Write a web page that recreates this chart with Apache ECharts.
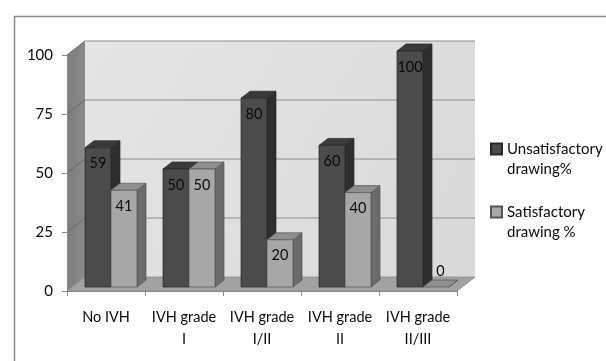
<!DOCTYPE html>
<html><head><meta charset="utf-8">
<script src="https://cdn.jsdelivr.net/npm/echarts@6/dist/echarts.min.js"></script>
<style>html,body{margin:0;padding:0;background:#fff}#chart{width:606px;height:361px}</style>
</head><body><div id="chart"></div>
<script>
// Drawing quality by IVH grade
const categories = ['No IVH', 'IVH grade\nI', 'IVH grade\nI/II', 'IVH grade\nII', 'IVH grade\nII/III'];
const unsatisfactory = [59, 50, 80, 60, 100];
const satisfactory = [41, 50, 20, 40, 0];
const seriesNames = ['Unsatisfactory\ndrawing%', 'Satisfactory\ndrawing %'];
const yTicks = [0, 25, 50, 75, 100];

const FONT = 'Lato, "Open Sans", sans-serif';
const TEXT = '#0a0a0a';
// pseudo-3D offsets (pixels): back wall, bar front plane, bar thickness
const WALL = [18, -14];
const BAR_FRONT = [5, -4];
const BAR_DEPTH = [9, -7];
const BAR_W = 26;

const palette = [
  { front: '#4b4b4b', top: '#3a3a3a', side: '#2e2e2e', edge: '#262626' },
  { front: '#a7a7a7', top: '#8f8f8f', side: '#6b6b6b', edge: '#555555' }
];

function poly(points, fill, stroke, lw) {
  return { type: 'polygon', shape: { points: points },
    style: { fill: fill, stroke: stroke || null, lineWidth: stroke ? (lw || 0.7) : 0 } };
}
function seg(x1, y1, x2, y2, color, lw) {
  return { type: 'line', shape: { x1: x1, y1: y1, x2: x2, y2: y2 },
    style: { stroke: color, lineWidth: lw || 1 } };
}

// back wall, side wall, floor and their gridlines
function renderWalls(params, api) {
  const cs = params.coordSys;
  const x0 = cs.x, x1 = cs.x + cs.width;
  const yBottom = api.coord([0, 0])[1];
  const yTop = api.coord([0, yTicks[yTicks.length - 1]])[1];
  const dx = WALL[0], dy = WALL[1];
  const children = [
    poly([[x0 + dx, yTop + dy], [x1 + dx, yTop + dy], [x1 + dx, yBottom + dy], [x0 + dx, yBottom + dy]],
      { type: 'linear', x: 0, y: 0, x2: 1, y2: 1, colorStops: [{ offset: 0, color: '#e5e5e5' }, { offset: 1, color: '#d9d9d9' }] }),
    poly([[x0, yTop], [x0 + dx, yTop + dy], [x0 + dx, yBottom + dy], [x0, yBottom]],
      { type: 'linear', x: 0, y: 0, x2: 1, y2: 0, colorStops: [{ offset: 0, color: '#7c7c7c' }, { offset: 1, color: '#8a8a8a' }] }),
    poly([[x0, yBottom], [x1, yBottom], [x1 + dx, yBottom + dy], [x0 + dx, yBottom + dy]], '#a2a2a2', '#8a8a8a', 0.8)
  ];
  yTicks.forEach(function (v) {
    if (v === 0) return;
    const y = api.coord([0, v])[1];
    children.push(seg(x0 + dx, y + dy, x1 + dx, y + dy, '#8c8c8c', 1));
    children.push(seg(x0, y, x0 + dx, y + dy, '#666666', 1));
  });
  return { type: 'group', children: children };
}

function makeBarRenderer(s) {
  return function (params, api) {
    const cat = api.value(0), val = api.value(1);
    const base = api.coord([cat, 0]);
    const top = api.coord([cat, val]);
    const left = base[0] - BAR_W + s * BAR_W + BAR_FRONT[0];
    const right = left + BAR_W;
    const yb = base[1] + BAR_FRONT[1];
    const yt = top[1] + BAR_FRONT[1];
    const ddx = BAR_DEPTH[0], ddy = BAR_DEPTH[1];
    const c = palette[s];
    const children = [
      poly([[right, yt], [right + ddx, yt + ddy], [right + ddx, yb + ddy], [right, yb]], c.side, c.edge),
      poly([[left, yt], [left + ddx, yt + ddy], [right + ddx, yt + ddy], [right, yt]], c.top, c.edge)
    ];
    if (yb - yt > 0.5) {
      children.push(poly([[left, yt], [right, yt], [right, yb], [left, yb]], c.front, c.edge));
    }
    const inside = (yb - yt) > 24;
    children.push({
      type: 'text',
      style: {
        text: String(val),
        x: (left + right) / 2 + (inside ? 0 : ddx / 2),
        y: inside ? yt + 16 : yt + ddy - 9,
        align: 'center', verticalAlign: 'middle',
        fontFamily: FONT, fontSize: 14.5, fill: TEXT
      }
    });
    return { type: 'group', children: children };
  };
}

const chart = echarts.init(document.getElementById('chart'), null, { renderer: 'canvas' });
chart.setOption({
  backgroundColor: '#ffffff',
  animation: false,
  graphic: [{
    type: 'rect', left: 12, top: 14, z: -10,
    shape: { x: 0, y: 0, width: 700, height: 400 },
    style: { fill: 'none', stroke: '#8a8a8a', lineWidth: 1.5 }
  }],
  grid: { left: 67, top: 55, width: 390, height: 236 },
  legend: {
    orient: 'vertical', left: 485, top: 114, itemGap: 3,
    itemWidth: 11, itemHeight: 11, icon: 'rect',
    data: seriesNames,
    // leading blank line keeps the marker level with the first text line
    formatter: function (name) { return '\n' + name; },
    textStyle: { fontFamily: FONT, fontSize: 15, color: TEXT, lineHeight: 20 }
  },
  xAxis: {
    type: 'category', data: categories,
    axisLine: { lineStyle: { color: '#8a8a8a', width: 1 } },
    axisTick: { show: true, length: 5, lineStyle: { color: '#8a8a8a' } },
    axisLabel: { interval: 0, fontFamily: FONT, fontSize: 14.5, color: TEXT, margin: 15, lineHeight: 22 },
    splitLine: { show: false }
  },
  yAxis: {
    type: 'value', min: 0, max: 100, interval: 25,
    axisLine: { show: true, lineStyle: { color: '#8a8a8a', width: 1 } },
    axisTick: { show: true, length: 5, lineStyle: { color: '#8a8a8a' } },
    axisLabel: { fontFamily: FONT, fontSize: 15, color: TEXT, margin: 14 },
    splitLine: { show: false }
  },
  series: [
    {
      type: 'custom', name: 'walls', silent: true, z: 0,
      renderItem: renderWalls, data: [[0, 0]], encode: { x: 0, y: 1 }
    },
    {
      type: 'custom', name: seriesNames[0], z: 2,
      itemStyle: { color: palette[0].front, borderColor: palette[0].edge, borderWidth: 1 },
      renderItem: makeBarRenderer(0),
      data: unsatisfactory.map(function (v, i) { return [i, v]; }), encode: { x: 0, y: 1 }
    },
    {
      type: 'custom', name: seriesNames[1], z: 3,
      itemStyle: { color: palette[1].front, borderColor: palette[1].edge, borderWidth: 1 },
      renderItem: makeBarRenderer(1),
      data: satisfactory.map(function (v, i) { return [i, v]; }), encode: { x: 0, y: 1 }
    }
  ]
});
</script>
</body></html>
